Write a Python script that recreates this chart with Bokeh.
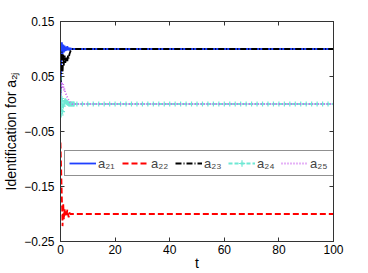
import numpy as np
from bokeh.plotting import figure
from bokeh.models import Range1d, LinearAxis, FixedTicker, Legend, LegendItem, CustomJSTickFormatter
from bokeh.embed import file_html
from bokeh.resources import INLINE

# ---- data ----
t_trans = [0.0, 0.25, 0.5, 0.75, 1.0, 1.25, 1.5, 1.75, 2.0, 2.25, 2.5, 2.75,
           3.0, 3.25, 3.5, 3.75, 4.0, 4.25, 4.5, 4.75, 5.0]
t_tail = list(range(6, 101, 2))

a21_trans = [0.015, 0.07, 0.112, 0.09, 0.108, 0.094, 0.106, 0.096, 0.104, 0.097, 0.105,
             0.098, 0.103, 0.097, 0.102, 0.099, 0.101, 0.1, 0.1, 0.1, 0.1]
a22_trans = [-0.07, -0.12, -0.17, -0.222, -0.18, -0.21, -0.19, -0.205, -0.195, -0.203, -0.192,
             -0.2, -0.206, -0.197, -0.2, -0.2, -0.2, -0.2, -0.2, -0.2, -0.2]
a23_trans = [0.02, 0.06, 0.095, 0.055, 0.09, 0.07, 0.088, 0.075, 0.082, 0.086, 0.078,
             0.088, 0.083, 0.09, 0.094, 0.097, 0.099, 0.1, 0.1, 0.1, 0.1]
a24_trans = [0.05, -0.02, 0.01, -0.014, -0.004, 0.0, 0.004, 0.006, 0.005, 0.003, 0.002,
             0.001, 0.0, 0.0, 0.0, 0.0, 0.0, 0.0, 0.0, 0.0, 0.0]
a25_trans = [0.01, 0.035, 0.04, 0.028, 0.036, 0.024, 0.028, 0.02, 0.018, 0.014, 0.012,
             0.009, 0.007, 0.005, 0.003, 0.002, 0.001, 0.0, 0.0, 0.0, 0.0]

a21_final = 0.1
a22_final = -0.2
a23_final = 0.1
a24_final = 0.0
a25_final = 0.0

x_ticks = [0, 20, 40, 60, 80, 100]
y_ticks = [-0.25, -0.15, -0.05, 0.05, 0.15]
series_labels = ["a\u2082\u2081", "a\u2082\u2082", "a\u2082\u2083", "a\u2082\u2084", "a\u2082\u2085"]
x_label = "t"
y_label = "Identification for a\u2082\u2c7c"

t = t_trans + t_tail
def full(trans, final):
    return trans + [final] * len(t_tail)

FONT = "Liberation Sans"

p = figure(width=368, height=273, output_backend="svg", toolbar_location=None,
           x_range=Range1d(0, 100), y_range=Range1d(-0.25, 0.15),
           min_border_left=59, min_border_right=35, min_border_top=21, min_border_bottom=29)
p.xgrid.visible = False
p.ygrid.visible = False
p.outline_line_color = "#333333"
p.outline_line_width = 1
p.background_fill_color = "white"
p.border_fill_color = "white"

for ax in (p.xaxis[0], p.yaxis[0]):
    ax.major_tick_in = 4
    ax.major_tick_out = 0
    ax.minor_tick_line_color = None
    ax.axis_line_color = "#333333"
    ax.major_tick_line_color = "#333333"
    ax.major_label_text_font = FONT
    ax.major_label_text_font_size = "12px"
    ax.major_label_text_color = "black"
    ax.axis_label_text_font = FONT
    ax.axis_label_text_font_size = "14px"
    ax.axis_label_text_font_style = "normal"
    ax.axis_label_text_color = "black"

p.xaxis.ticker = FixedTicker(ticks=x_ticks)
p.yaxis.ticker = FixedTicker(ticks=y_ticks)
p.yaxis.formatter = CustomJSTickFormatter(code="return tick.toFixed(2).replace('-', '\u2212');")
p.xaxis.major_label_standoff = 3
p.yaxis.major_label_standoff = 6
p.xaxis.axis_label = x_label
p.yaxis.axis_label = y_label
p.xaxis.axis_label_standoff = -2
p.yaxis.axis_label_standoff = 2

top = LinearAxis(ticker=FixedTicker(ticks=x_ticks), major_tick_in=4, major_tick_out=0,
                 minor_tick_line_color=None, major_label_text_font_size="1px",
                 major_label_text_color=None, axis_line_color="#333333",
                 major_tick_line_color="#333333", major_label_standoff=0)
right = LinearAxis(ticker=FixedTicker(ticks=y_ticks), major_tick_in=4, major_tick_out=0,
                   minor_tick_line_color=None, major_label_text_font_size="1px",
                   major_label_text_color=None, axis_line_color="#333333",
                   major_tick_line_color="#333333", major_label_standoff=0)
p.add_layout(top, "above")
p.add_layout(right, "right")

LW = 1.8
r1 = p.line(t, full(a21_trans, a21_final), line_color="#1f40ff", line_width=LW)
r2 = p.line(t, full(a22_trans, a22_final), line_color="#ff0000", line_width=LW, line_dash="6 3")
r3 = p.line(t, full(a23_trans, a23_final), line_color="black", line_width=LW, line_dash="6 2 1 2")
r4 = p.line(t, full(a24_trans, a24_final), line_color="#6fe8d4", line_width=LW, line_dash="4 2")
r4m = p.scatter(t, full(a24_trans, a24_final), marker="cross", size=5, line_color="#6fe8d4", line_width=1.2)
r5 = p.line(t, full(a25_trans, a25_final), line_color="#cc66ee", line_width=LW, line_dash="1 2")

legend = Legend(items=[
    LegendItem(label=series_labels[0], renderers=[r1]),
    LegendItem(label=series_labels[1], renderers=[r2]),
    LegendItem(label=series_labels[2], renderers=[r3]),
    LegendItem(label=series_labels[3], renderers=[r4, r4m]),
    LegendItem(label=series_labels[4], renderers=[r5]),
], orientation="horizontal", location=(4, 65))
legend.label_text_font = FONT
legend.label_text_font_size = "13px"
legend.glyph_width = 27
legend.glyph_height = 16
legend.label_height = 16
legend.label_standoff = 2
legend.spacing = 4
legend.padding = 4
legend.margin = 0
legend.border_line_color = "#222222"
legend.border_line_width = 1
legend.background_fill_alpha = 1
p.add_layout(legend, "center")

open("out.html", "w").write(file_html(p, INLINE))
